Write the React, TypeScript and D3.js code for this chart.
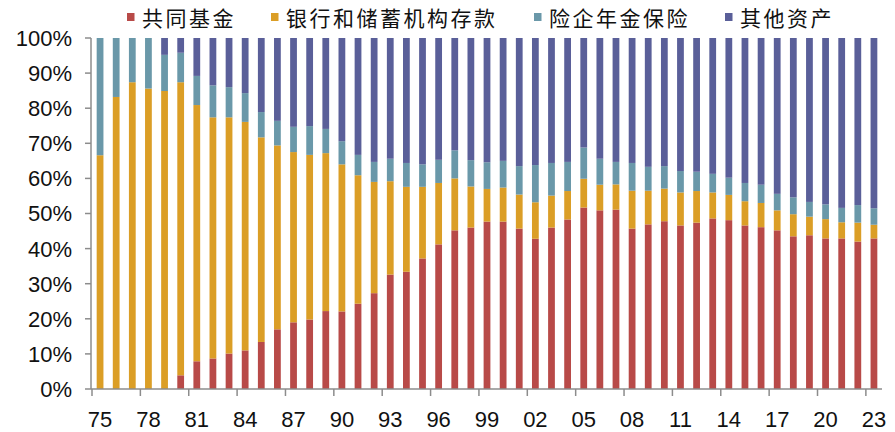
import { useEffect, useRef } from "react";
import * as d3 from "d3";

const years = [
  "75", "76", "77", "78", "79", "80", "81", "82", "83", "84", "85", "86", "87", "88", "89",
  "90", "91", "92", "93", "94", "95", "96", "97", "98", "99", "00", "01", "02", "03", "04",
  "05", "06", "07", "08", "09", "10", "11", "12", "13", "14", "15", "16", "17", "18", "19",
  "20", "21", "22", "23",
];

// cumulative tops (%)
const mutualFund = [
  0, 0, 0, 0, 0, 3.9, 7.9, 8.7, 10.1, 11.0, 13.4, 17.0, 19.0, 19.8, 22.2,
  22.1, 24.3, 27.3, 32.6, 33.4, 37.2, 41.2, 45.2, 46.0, 47.7, 47.7, 45.7, 42.8, 46.0, 48.3,
  51.7, 50.9, 51.1, 45.7, 46.9, 47.8, 46.6, 47.4, 48.6, 48.1, 46.6, 46.1, 45.2, 43.5, 43.8,
  42.9, 42.9, 42.0, 42.9,
];
const depositTop = [
  66.6, 83.2, 87.4, 85.6, 84.9, 87.4, 80.9, 77.4, 77.4, 76.1, 71.7, 69.4, 67.5, 66.7, 67.2,
  64.0, 60.9, 59.0, 59.2, 57.6, 57.6, 58.7, 60.0, 57.7, 57.0, 57.4, 55.4, 53.2, 55.1, 56.4,
  59.9, 58.2, 58.3, 56.5, 56.5, 57.1, 56.0, 56.4, 56.0, 55.3, 53.5, 53.0, 50.9, 49.8, 49.1,
  48.4, 47.5, 47.4, 46.8,
];
const pensionTop = [
  100, 100, 100, 100, 95.2, 95.8, 89.2, 86.5, 86.0, 84.3, 78.9, 76.4, 74.7, 74.9, 74.1,
  70.6, 66.7, 64.7, 65.6, 64.4, 64.0, 65.3, 68.0, 65.2, 64.6, 65.0, 63.5, 63.8, 64.4, 64.7,
  68.8, 65.6, 64.7, 64.4, 63.3, 63.5, 62.1, 61.9, 61.3, 60.2, 58.7, 58.2, 55.6, 54.6, 53.3,
  52.6, 51.6, 52.4, 51.5,
];

const seriesNames = ["共同基金", "银行和储蓄机构存款", "险企年金保险", "其他资产"];
const seriesColors = ["#B84A48", "#DB9E26", "#6A98A9", "#5A5F99"];
const yTicks = [0, 10, 20, 30, 40, 50, 60, 70, 80, 90, 100];
const legendX = [127, 271, 534, 725];

export default function App() {
  const ref = useRef<SVGSVGElement | null>(null);

  useEffect(() => {
    if (!ref.current) return;
    const width = 895;
    const height = 432;
    const left = 91;
    const right = 882;
    const top = 38;
    const bottom = 389;

    const svg = d3.select(ref.current);
    svg.selectAll("*").remove();
    svg.attr("width", width).attr("height", height);

    const rows = years.map((yr, i) => ({
      yr,
      vals: [mutualFund[i], depositTop[i] - mutualFund[i], pensionTop[i] - depositTop[i], 100 - pensionTop[i]],
    }));

    const x = d3.scaleBand<string>().domain(years).range([left + 1, right]).paddingInner(0.58).paddingOuter(0.29);
    const y = d3.scaleLinear().domain([0, 100]).range([bottom, top]);

    const stack = d3
      .stack<{ yr: string; vals: number[] }, number>()
      .keys([0, 1, 2, 3])
      .value((d, k) => d.vals[k]);
    const layers = stack(rows);

    svg
      .append("g")
      .selectAll("g")
      .data(layers)
      .join("g")
      .attr("fill", (_, i) => seriesColors[i])
      .selectAll("rect")
      .data((d) => d)
      .join("rect")
      .attr("x", (d) => x(d.data.yr) as number)
      .attr("width", x.bandwidth())
      .attr("y", (d) => y(d[1]))
      .attr("height", (d) => Math.max(0, y(d[0]) - y(d[1])));

    const axisColor = "#8c8c8c";
    const font = "'Liberation Sans', Arial, sans-serif";

    // y axis
    const ya = svg.append("g");
    ya.append("line").attr("x1", left).attr("x2", left).attr("y1", top).attr("y2", bottom).attr("stroke", axisColor).attr("stroke-width", 1.5);
    ya.selectAll("line.t")
      .data(yTicks)
      .join("line")
      .attr("class", "t")
      .attr("x1", left - 6)
      .attr("x2", left)
      .attr("y1", (d) => y(d))
      .attr("y2", (d) => y(d))
      .attr("stroke", axisColor)
      .attr("stroke-width", 1.5);
    ya.selectAll("text")
      .data(yTicks)
      .join("text")
      .attr("x", 72)
      .attr("y", (d) => y(d))
      .attr("dy", "0.36em")
      .attr("text-anchor", "end")
      .attr("font-family", font)
      .attr("font-size", 22)
      .attr("fill", "#111")
      .text((d) => `${d}%`);

    // x axis
    const step = x.step();
    const tickYears = years.filter((_, i) => i % 3 === 0);
    const xa = svg.append("g");
    xa.append("line").attr("x1", left).attr("x2", right).attr("y1", bottom).attr("y2", bottom).attr("stroke", axisColor).attr("stroke-width", 1.5);
    xa.selectAll("line.t")
      .data(tickYears)
      .join("line")
      .attr("class", "t")
      .attr("x1", (d) => (x(d) as number) - (step - x.bandwidth()) / 2)
      .attr("x2", (d) => (x(d) as number) - (step - x.bandwidth()) / 2)
      .attr("y1", bottom)
      .attr("y2", bottom + 7)
      .attr("stroke", axisColor)
      .attr("stroke-width", 1.5);
    xa.selectAll("text")
      .data(tickYears)
      .join("text")
      .attr("x", (d) => (x(d) as number) + x.bandwidth() / 2)
      .attr("y", 419)
      .attr("dy", "0.36em")
      .attr("text-anchor", "middle")
      .attr("font-family", font)
      .attr("font-size", 22)
      .attr("fill", "#111")
      .text((d) => d);

    // legend
    const lg = svg.append("g");
    seriesNames.forEach((name, i) => {
      lg.append("rect").attr("x", legendX[i]).attr("y", 13).attr("width", 7.5).attr("height", 8).attr("fill", seriesColors[i]);
      lg.append("text")
        .attr("x", legendX[i] + 15)
        .attr("y", 18)
        .attr("dy", "0.36em")
        .attr("font-family", "'Noto Sans CJK SC', sans-serif")
        .attr("font-size", 21)
        .attr("letter-spacing", 2.5)
        .attr("fill", "#111")
        .text(name);
    });
  }, []);

  return <svg ref={ref} style={{ position: "absolute", left: 0, top: 0 }} />;
}
